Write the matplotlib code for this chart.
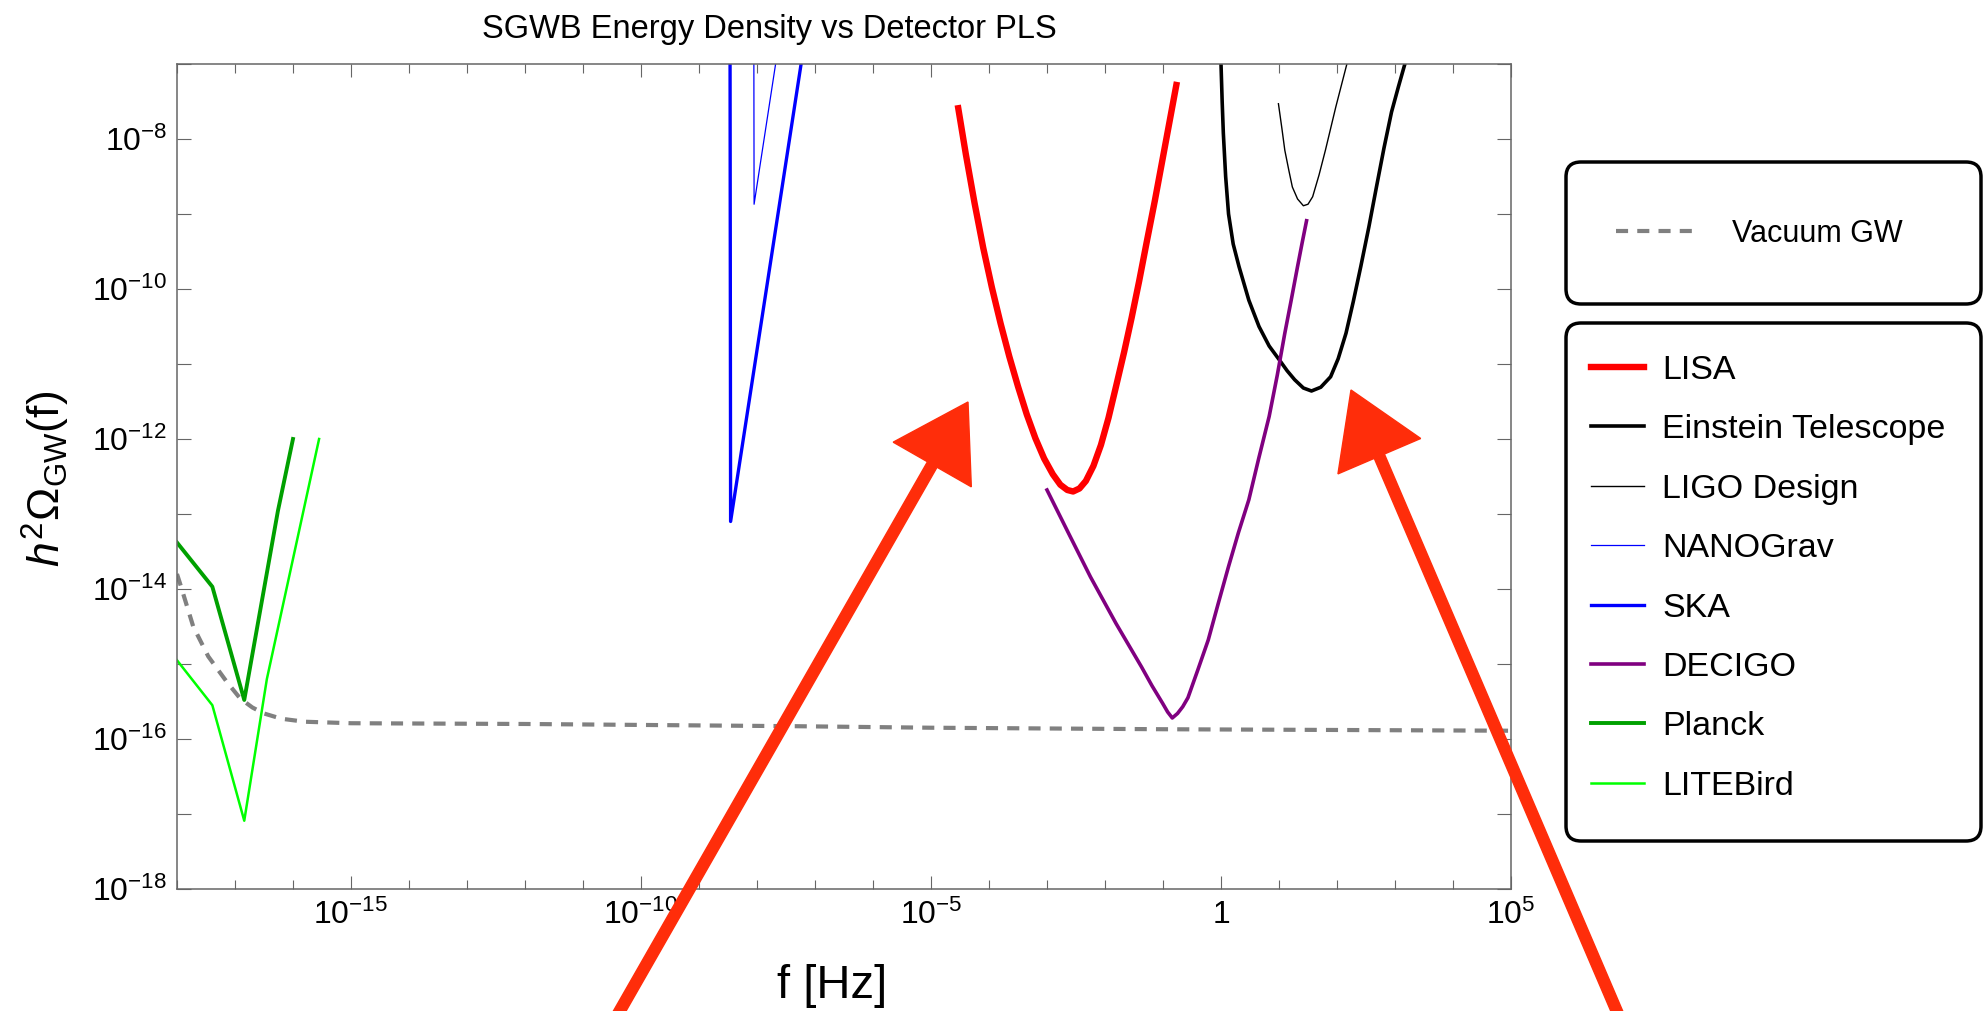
import numpy as np
import matplotlib.pyplot as plt
from matplotlib.patches import FancyBboxPatch, FancyArrow
from matplotlib.ticker import FixedLocator, FixedFormatter, NullFormatter

plt.rcParams['font.family'] = ['Liberation Sans', 'DejaVu Sans']
plt.rcParams['mathtext.fontset'] = 'custom'
plt.rcParams['mathtext.rm'] = 'Liberation Sans'
plt.rcParams['mathtext.sf'] = 'Liberation Sans'
plt.rcParams['mathtext.it'] = 'Liberation Sans:italic'
plt.rcParams['mathtext.bf'] = 'Liberation Sans:bold'

# all curves as log10(f / Hz) and log10(h^2 Omega_GW)
vacuum_logf = [-18.0, -17.95, -17.72, -17.46, -17.14, -16.91, -16.7, -16.5, -16.2,
               -15.8, -15.0, -12.0, -7.3, -5.0, -1.0, 5.0]
vacuum_logom = [-13.80, -13.92, -14.50, -14.90, -15.24, -15.46, -15.58, -15.66, -15.73,
                -15.77, -15.79, -15.80, -15.83, -15.85, -15.87, -15.89]

lisa_logf = [-4.53, -4.40, -4.25, -4.10, -3.95, -3.80, -3.65, -3.50, -3.35, -3.20,
             -3.05, -2.90, -2.77, -2.65, -2.55, -2.44, -2.33, -2.20, -2.07, -1.94,
             -1.81, -1.67, -1.54, -1.41, -1.28, -1.14, -1.01, -0.89, -0.77]
lisa_logom = [-7.59, -8.20, -8.85, -9.45, -9.98, -10.46, -10.90, -11.30, -11.67, -11.99,
              -12.26, -12.47, -12.61, -12.68, -12.70, -12.66, -12.56, -12.36, -12.08, -11.72,
              -11.30, -10.84, -10.38, -9.89, -9.37, -8.82, -8.28, -7.78, -7.28]

et_logf = [0.00, 0.02, 0.04, 0.08, 0.13, 0.21, 0.31, 0.48, 0.655, 0.83, 1.01, 1.14,
           1.27, 1.42, 1.56, 1.72, 1.89, 2.02, 2.155, 2.28, 2.41, 2.55, 2.68, 2.81,
           2.94, 3.06, 3.17]
et_logom = [-7.00, -7.50, -7.92, -8.50, -9.00, -9.40, -9.70, -10.15, -10.50, -10.76, -10.95, -11.09,
            -11.21, -11.32, -11.36, -11.31, -11.17, -10.93, -10.59, -10.17, -9.70, -9.17, -8.64, -8.12,
            -7.64, -7.30, -7.00]

ligo_logf = [0.99, 1.05, 1.10, 1.17, 1.23, 1.32, 1.42, 1.50, 1.58, 1.69, 1.80, 1.89, 1.98, 2.17]
ligo_logom = [-7.53, -7.86, -8.15, -8.42, -8.64, -8.80, -8.89, -8.87, -8.77, -8.48, -8.15, -7.86, -7.57, -7.00]

nanograv_logf = [-8.055, -8.05, -7.58]
nanograv_logom = [-6.5, -8.87, -6.5]

ska_logf = [-8.465, -8.455, -7.16]
ska_logom = [-6.5, -13.10, -6.6]

decigo_logf = [-3.00, -2.62, -2.25, -1.81, -1.37, -1.19, -1.01, -0.92, -0.84, -0.75, -0.66,
               -0.57, -0.40, -0.22, -0.05, 0.13, 0.30, 0.48, 0.65, 0.83, 0.97, 1.10, 1.21,
               1.32, 1.40, 1.475]
decigo_logom = [-12.68, -13.27, -13.84, -14.46, -15.04, -15.29, -15.52, -15.64, -15.72, -15.66, -15.57,
                -15.45, -15.08, -14.68, -14.20, -13.70, -13.25, -12.81, -12.26, -11.70, -11.15, -10.59, -10.15,
                -9.70, -9.38, -9.09]

planck_logf = [-18.0, -17.39, -16.84, -16.26, -16.00]
planck_logom = [-13.38, -13.97, -15.48, -12.96, -12.00]

litebird_logf = [-18.0, -17.39, -16.84, -16.45, -15.55]
litebird_logom = [-14.95, -15.55, -17.09, -15.20, -12.00]

detectors = [
    ('LISA', lisa_logf, lisa_logom, '#ff0000', 4.6),
    ('Einstein Telescope', et_logf, et_logom, '#000000', 2.6),
    ('LIGO Design', ligo_logf, ligo_logom, '#000000', 1.0),
    ('NANOGrav', nanograv_logf, nanograv_logom, '#0000ff', 0.9),
    ('SKA', ska_logf, ska_logom, '#0000ff', 2.4),
    ('DECIGO', decigo_logf, decigo_logom, '#800080', 2.6),
    ('Planck', planck_logf, planck_logom, '#00a000', 2.8),
    ('LITEBird', litebird_logf, litebird_logom, '#00ff00', 1.8),
]

x_major = [1e-15, 1e-10, 1e-5, 1.0, 1e5]
x_major_labels = [r'$10^{-15}$', r'$10^{-10}$', r'$10^{-5}$', r'$1$', r'$10^{5}$']
x_minor = [10.0 ** k for k in range(-18, 6) if k % 5 != 0]
y_major = [10.0 ** k for k in range(-18, -7, 2)]
y_major_labels = [r'$10^{%d}$' % k for k in range(-18, -7, 2)]
y_minor = [10.0 ** k for k in range(-17, -6, 2)]

# hand-drawn style pointers, in inches from the lower-left corner of the figure
arrow_tails = [(6.14, -0.10), (16.21, -0.10)]
arrow_tips = [(9.68, 6.09), (13.51, 6.21)]

fig = plt.figure(figsize=(19.84, 10.11), dpi=100)
ax = fig.add_axes([0.0892, 0.1207, 0.6724, 0.8160])

vac_line, = ax.plot(10.0 ** np.array(vacuum_logf), 10.0 ** np.array(vacuum_logom),
                    color='#808080', lw=3.0, ls=(0, (2.9, 2.2)), label='Vacuum GW')

det_lines = []
for name, lf, lo, col, lw in detectors:
    ln, = ax.plot(10.0 ** np.array(lf), 10.0 ** np.array(lo), color=col, lw=lw, label=name)
    det_lines.append(ln)

ax.set_xscale('log')
ax.set_yscale('log')
ax.set_xlim(1e-18, 1e5)
ax.set_ylim(1e-18, 1e-7)

ax.xaxis.set_major_locator(FixedLocator(x_major))
ax.xaxis.set_major_formatter(FixedFormatter(x_major_labels))
ax.xaxis.set_minor_locator(FixedLocator(x_minor))
ax.xaxis.set_minor_formatter(NullFormatter())
ax.yaxis.set_major_locator(FixedLocator(y_major))
ax.yaxis.set_major_formatter(FixedFormatter(y_major_labels))
ax.yaxis.set_minor_locator(FixedLocator(y_minor))
ax.yaxis.set_minor_formatter(NullFormatter())

ax.tick_params(which='both', direction='in', top=True, right=True,
               color='#666666', width=0.8, labelsize=23)
ax.tick_params(axis='x', which='major', length=9.4, pad=8)
ax.tick_params(axis='x', which='minor', length=6.5)
ax.tick_params(axis='y', which='both', length=9.9, pad=7)
for sp in ax.spines.values():
    sp.set_color('#666666')
    sp.set_linewidth(1.1)

ax.set_xlabel('f [Hz]', fontsize=34)
ax.xaxis.set_label_coords(0.491, -0.091)
ax.set_ylabel(r'$h^2\mathsf{\Omega_{GW}(f)}$', fontsize=32)
ax.yaxis.set_label_coords(-0.0787, 0.497)

fig.text(0.388, 1 - 38 / 1011, 'SGWB Energy Density vs Detector PLS',
         ha='center', va='baseline', fontsize=23.5)

# legends without frames; rounded frames are drawn separately
leg_det = ax.legend(handles=det_lines, loc='upper left', bbox_to_anchor=(0.8019, 0.649),
                    bbox_transform=fig.transFigure, frameon=False, fontsize=24.5,
                    handlelength=1.55, handletextpad=0.55, labelspacing=0.835,
                    borderpad=0, borderaxespad=0)
ax.add_artist(leg_det)
leg_vac = ax.legend(handles=[vac_line], loc='center left', bbox_to_anchor=(0.8145, 1 - 234 / 1011),
                    bbox_transform=fig.transFigure, frameon=False, fontsize=22,
                    handlelength=2.7, handletextpad=1.1, borderpad=0, borderaxespad=0)

for (x0, y0, w, h) in [(15.66, 7.07, 4.15, 1.42), (15.66, 1.70, 4.15, 5.18)]:
    box = FancyBboxPatch((x0, y0), w, h, boxstyle='round,pad=0,rounding_size=0.15',
                         transform=fig.dpi_scale_trans, facecolor='none',
                         edgecolor='black', lw=2.5, zorder=5)
    fig.add_artist(box)

for (tx, ty), (hx, hy) in zip(arrow_tails, arrow_tips):
    arr = FancyArrow(tx, ty, hx - tx, hy - ty, width=0.11, head_width=0.9, head_length=0.72,
                     length_includes_head=True, transform=fig.dpi_scale_trans,
                     color='#ff2d0a', lw=1.0, zorder=20)
    fig.add_artist(arr)

fig.savefig('out.png', dpi=100)
